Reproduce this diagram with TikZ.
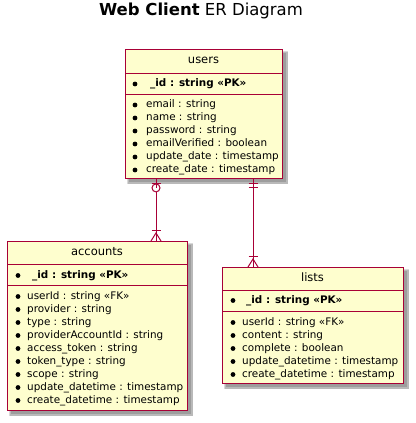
\documentclass[tikz,border=0pt]{standalone}
\usepackage{fontspec}
\setmainfont{DejaVu Sans}
\usetikzlibrary{calc}
\definecolor{erfill}{HTML}{FEFECE}
\definecolor{erline}{HTML}{A80036}
\tikzset{
  x=1pt, y=-1pt,
  entity/.style={draw=erline, line width=1.4pt, fill=erfill, anchor=north west, inner sep=0pt},
  sep/.style={draw=erline, line width=1pt},
  hdr/.style={font=\fontsize{11.5}{13}\selectfont, inner sep=0pt, anchor=mid},
  row/.style={font=\fontsize{10.4}{12}\selectfont, inner sep=0pt, anchor=mid west},
  pk/.style={font=\bfseries\fontsize{10.4}{12}\selectfont, inner sep=0pt, anchor=mid west},
  bul/.style={fill=black, draw=none},
  conn/.style={draw=erline, line width=1pt},
  shad/.style={fill=black, opacity=0.15, draw=none}
}
\newcommand{\erbox}[5]{% name, x, y, w, h
  \fill[shad] (#2+2,#3+2) rectangle ++(#4+4,#5+4);
  \fill[shad] (#2+3,#3+3) rectangle ++(#4+2.5,#5+2.5);
  \fill[shad] (#2+4,#3+4) rectangle ++(#4,#5);
  \node[entity, minimum width=#4, minimum height=#5] (#1) at (#2,#3) {};
}
\newcommand{\bull}[2]{\fill[bul] (#1,#2) circle (2.4);}
\begin{document}
\begin{tikzpicture}
\useasboundingbox (0,0) rectangle (415,423);
% title
\node[font=\fontsize{16.5}{18}\selectfont, inner sep=0pt, anchor=mid] (title) at (201,12.5) {\textbf{Web Client} ER Diagram};

% users
\erbox{users}{125}{49}{157}{129}
\draw[sep] (125,73) -- (282,73);
\draw[sep] (125,94) -- (282,94);
\node[hdr] (usersh) at (203.5,61) {users};
\bull{135}{84}\node[pk] (u0) at (150,84) {\_id : string «PK»};
\bull{135}{105}\node[row] (u1) at (146,105) {email : string};
\bull{135}{118}\node[row] (u2) at (146,118) {name : string};
\bull{135}{131}\node[row] (u3) at (146,131) {password : string};
\bull{135}{144}\node[row] (u4) at (146,144) {emailVerified : boolean};
\bull{135}{157}\node[row] (u5) at (146,157) {update\_date : timestamp};
\bull{135}{170}\node[row] (u6) at (146,170) {create\_date : timestamp};

% accounts
\erbox{accounts}{7}{241}{180}{169}
\draw[sep] (7,264) -- (187,264);
\draw[sep] (7,285) -- (187,285);
\node[hdr] (accountsh) at (97,252.5) {accounts};
\bull{18}{275.5}\node[pk] (a0) at (32,275.5) {\_id : string «PK»};
\bull{18}{296.5}\node[row] (a1) at (27,296.5) {userId : string «FK»};
\bull{18}{309.5}\node[row] (a2) at (27,309.5) {provider : string};
\bull{18}{322.5}\node[row] (a3) at (27,322.5) {type : string};
\bull{18}{335.5}\node[row] (a4) at (27,335.5) {providerAccountId : string};
\bull{18}{348.5}\node[row] (a5) at (27,348.5) {access\_token : string};
\bull{18}{361.5}\node[row] (a6) at (27,361.5) {token\_type : string};
\bull{18}{374.5}\node[row] (a7) at (27,374.5) {scope : string};
\bull{18}{387.5}\node[row] (a8) at (27,387.5) {update\_datetime : timestamp};
\bull{18}{400.5}\node[row] (a9) at (27,400.5) {create\_datetime : timestamp};

% lists
\erbox{lists}{222}{267}{181}{116}
\draw[sep] (222,290) -- (403,290);
\draw[sep] (222,311) -- (403,311);
\node[hdr] (listsh) at (312.5,278.5) {lists};
\bull{233}{300.5}\node[pk] (l0) at (246,300.5) {\_id : string «PK»};
\bull{233}{322.5}\node[row] (l1) at (242,322.5) {userId : string «FK»};
\bull{233}{335.5}\node[row] (l2) at (242,335.5) {content : string};
\bull{233}{348.5}\node[row] (l3) at (242,348.5) {complete : boolean};
\bull{233}{361.5}\node[row] (l4) at (242,361.5) {update\_datetime : timestamp};
\bull{233}{374.5}\node[row] (l5) at (242,374.5) {create\_datetime : timestamp};

% connector users -> accounts (zero or one to one or many)
\coordinate (c1) at ($(users.south west)+(31,0)$);
\coordinate (c1e) at (c1 |- accounts.north);
\draw[conn] (c1) -- ($(c1)+(0,8.5)$);
\draw[conn] ($(c1)+(0,8.5)$) circle (4);
\draw[conn] ($(c1)+(0,12.5)$) -- (c1e);
\draw[conn] ($(c1)+(-4.5,4)$) -- ($(c1)+(4.5,4)$);
\draw[conn] ($(c1e)+(-4.5,-11)$) -- ($(c1e)+(4.5,-11)$);
\draw[conn] ($(c1e)+(-5,0)$) -- ($(c1e)+(0,-8)$) -- ($(c1e)+(5,0)$);

% connector users -> lists (exactly one to one or many)
\coordinate (c2) at ($(users.south west)+(128,0)$);
\coordinate (c2e) at (c2 |- lists.north);
\draw[conn] (c2) -- (c2e);
\draw[conn] ($(c2)+(-4.5,4)$) -- ($(c2)+(4.5,4)$);
\draw[conn] ($(c2)+(-4.5,8.5)$) -- ($(c2)+(4.5,8.5)$);
\draw[conn] ($(c2e)+(-4.5,-11)$) -- ($(c2e)+(4.5,-11)$);
\draw[conn] ($(c2e)+(-5,0)$) -- ($(c2e)+(0,-8)$) -- ($(c2e)+(5,0)$);
\end{tikzpicture}
\end{document}
